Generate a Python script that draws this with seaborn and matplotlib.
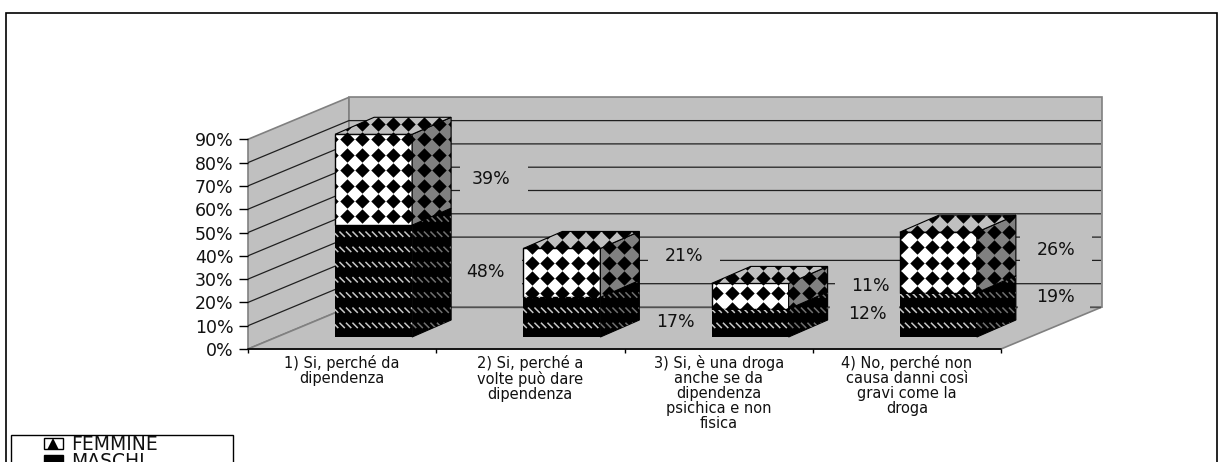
import matplotlib
matplotlib.use("Agg")
import matplotlib.pyplot as plt
import numpy as np
import pandas as pd
import seaborn as sns
from matplotlib.legend_handler import HandlerTuple
from matplotlib.lines import Line2D
from matplotlib.path import Path
from matplotlib.patches import Patch, Polygon, Rectangle

categories = [
    "1) Si, perché da\ndipendenza",
    "2) Si, perché a\nvolte può dare\ndipendenza",
    "3) Si, è una droga\nanche se da\ndipendenza\npsichica e non\nfisica",
    "4) No, perché non\ncausa danni così\ngravi come la\ndroga",
]
maschi = [48, 17, 12, 19]
femmine = [39, 21, 11, 26]
y_ticks = [0, 10, 20, 30, 40, 50, 60, 70, 80, 90]
value_labels = ["48%", "17%", "12%", "19%", "39%", "21%", "11%", "26%"]

# where the value labels sit, in pixels: text centre, then the wall-coloured box behind it
label_xy = [(485, 272), (675, 322), (867, 314), (1056, 297),
            (491, 179), (684, 256), (870, 286), (1056, 250)]
label_box = [(451, 522, 257, 292), (640, 710, 312, 332), (830, 899, 300, 327), (1018, 1090, 287, 310),
             (460, 528, 160, 198), (648, 720, 243, 270), (835, 900, 274, 297), (1020, 1092, 236, 272)]

W, H = 1224, 462
GRAY = "#c0c0c0"
DARK = "#808080"

sns.set_theme(style="white")
plt.rcParams["font.family"] = ["DejaVu Sans"]

fig = plt.figure(figsize=(W / 100, H / 100), dpi=100)
# axes box = front edge of the floor + wall depth, in pixels
left, right, top, bottom = 248, 1101, 98, 349
ax = fig.add_axes([left / W, 1 - bottom / H, (right - left) / W, (bottom - top) / H])

px_x = 188.25  # pixels per category
px_y = 2.33    # pixels per percent
xlim = (-0.5, -0.5 + (right - left) / px_x)
ylim = (0, (bottom - top) / px_y)
ax.set_xlim(*xlim)
ax.set_ylim(*ylim)
xmin, xmax = -0.5, 3.5
dx, dy = 101 / px_x, 42 / px_y      # wall depth
bx, by = 39 / px_x, 17 / px_y       # bar depth
shift_x, shift_y = 31.5 / px_x, 12 / px_y  # bar front relative to the slot


def to_data(px, py):
    return xmin + (px - left) / px_x, (bottom - py) / px_y


def lattice(face, px, py, ox=0.0, oy=0.0):
    # screen aligned lattice covering the bbox of a face
    bb = face.get_path().get_extents(face.get_patch_transform())
    xs = np.arange(np.floor((bb.x0 * px_x - ox) / px) - 1, np.ceil((bb.x1 * px_x - ox) / px) + 2) * px + ox
    ys = np.arange(np.floor((bb.y0 * px_y - oy) / py) - 1, np.ceil((bb.y1 * px_y - oy) / py) + 2) * py + oy
    gx, gy = np.meshgrid(xs / px_x, ys / px_y)
    return gx.ravel(), gy.ravel()


tick_marker = Path([(-1, 1), (1, -1)])


def diamonds(face):
    gx, gy = lattice(face, 15.4, 15.4, ox=4.7, oy=209.7)
    pts = ax.scatter(gx, gy, marker="D", s=54, c="black", linewidths=0, zorder=face.get_zorder())
    pts.set_clip_path(face)


def stripes(face, colour):
    gx, gy = lattice(face, 6.5, 15.2, oy=54.0)
    pts = ax.scatter(gx, gy, marker=tick_marker, s=15, facecolors="none", edgecolors=colour,
                     linewidths=1.1, zorder=face.get_zorder())
    pts.set_clip_path(face)


def add_poly(points, **kw):
    p = Polygon(points, closed=True, clip_on=False, **kw)
    ax.add_patch(p)
    return p


# walls and floor
add_poly([(xmin, 0), (xmin + dx, dy), (xmin + dx, dy + 90), (xmin, 90)], fc=GRAY, ec=DARK, lw=1.2, zorder=0)
add_poly([(xmin + dx, dy), (xmax + dx, dy), (xmax + dx, dy + 90), (xmin + dx, dy + 90)], fc=GRAY, ec=DARK, lw=1.2, zorder=0)
add_poly([(xmin, 0), (xmax, 0), (xmax + dx, dy), (xmin + dx, dy)], fc=GRAY, ec=DARK, lw=1.2, zorder=0)
for v in y_ticks[1:-1]:
    ax.plot([xmin, xmin + dx, xmax + dx], [v, v + dy, v + dy], color="#202020", lw=0.9, zorder=1)
ax.plot([xmin + dx, xmax + dx], [dy, dy], color="#505050", lw=1.0, zorder=1)

df = pd.DataFrame({"cat": categories, "MASCHI": maschi, "FEMMINE": femmine})
sns.barplot(data=df, x="cat", y="MASCHI", color="black", width=77 / px_x, saturation=1,
            order=categories, ax=ax, zorder=4, linewidth=0)
sns.barplot(data=df, x="cat", y="FEMMINE", color="white", width=77 / px_x, saturation=1,
            order=categories, ax=ax, zorder=4, bottom=df["MASCHI"].to_numpy(), edgecolor="black", linewidth=1)
ax.set_xlim(*xlim)
ax.set_ylim(*ylim)

bars = [p for p in ax.patches if isinstance(p, Rectangle)][-8:]
for i, bar in enumerate(bars):
    bar.set_x(bar.get_x() + shift_x)
    bar.set_y(bar.get_y() + shift_y)
    x0, y0, w, h = bar.get_x(), bar.get_y(), bar.get_width(), bar.get_height()
    upper = i >= 4
    side = add_poly([(x0 + w, y0), (x0 + w + bx, y0 + by), (x0 + w + bx, y0 + h + by), (x0 + w, y0 + h)],
                    fc=DARK if upper else "black", ec="black", lw=0.8, zorder=4)
    if upper:
        diamonds(side)
        cap = add_poly([(x0, y0 + h), (x0 + w, y0 + h), (x0 + w + bx, y0 + h + by), (x0 + bx, y0 + h + by)],
                       fc=GRAY, ec="black", lw=0.8, zorder=4)
        diamonds(cap)
        diamonds(bar)
    else:
        stripes(bar, "#c8c8c8")
        stripes(side, "#707070")

# value labels with their wall-coloured boxes
for txt, (cx, cy), (bx0, bx1, by0, by1) in zip(value_labels, label_xy, label_box):
    x0, y1 = to_data(bx0, by0)
    x1, y0 = to_data(bx1, by1)
    ax.add_patch(Rectangle((x0, y0), x1 - x0, y1 - y0, fc=GRAY, ec="none", zorder=2))
    tx, ty = to_data(cx, cy)
    ax.text(tx, ty, txt, ha="center", va="center", fontsize=12.5, color="#111111", zorder=3)

# axes furniture
for s in ax.spines.values():
    s.set_visible(False)
ax.plot([xmin, xmax], [0, 0], color="black", lw=1.2, zorder=2, clip_on=False)
ax.set_yticks(y_ticks)
ax.set_yticklabels([f"{v}%" for v in y_ticks], fontsize=12.5, color="#111111")
ax.set_xticks(range(len(categories)))
ax.set_xticklabels(categories, fontsize=10.5, linespacing=1.0, color="#111111")
ax.set_xticks(np.arange(xmin, xmax + 0.5), minor=True)
ax.tick_params(axis="x", which="major", length=0, pad=4)
ax.tick_params(axis="x", which="minor", length=3.2, width=1, color="black", bottom=True)
ax.tick_params(axis="y", length=6.5, width=1, color="black", left=True, pad=4)
ax.set_xlabel("")
ax.set_ylabel("")
ax.patch.set_visible(False)

# chart frame and legend box, both cut by the lower edge of the picture
fig.add_artist(Rectangle((6 / W, -0.05), (1217 - 6) / W, 1.05 - 13 / H, transform=fig.transFigure,
                         fc="none", ec="black", lw=1.2))
fig.add_artist(Rectangle((11 / W, -0.05), (233 - 11) / W, 0.05 + (462 - 435) / H, transform=fig.transFigure,
                         fc="white", ec="black", lw=1))
handles = [
    (Patch(fc="white", ec="black", lw=1),
     Line2D([], [], marker="^", ls="none", mfc="black", mec="black", mew=0, ms=8)),
    Patch(fc="black", ec="black"),
]
fig.legend(handles=handles, labels=["FEMMINE", "MASCHI"], loc="upper left",
           bbox_to_anchor=(44 / W, 1 - 435 / H), frameon=False, fontsize=13.5, labelspacing=-0.1,
           handletextpad=0.45, handlelength=1.0, handleheight=0.55, borderpad=0, borderaxespad=0,
           labelcolor="#111111", handler_map={tuple: HandlerTuple(ndivide=1, pad=0)})

fig.savefig("out.png", dpi=100)
